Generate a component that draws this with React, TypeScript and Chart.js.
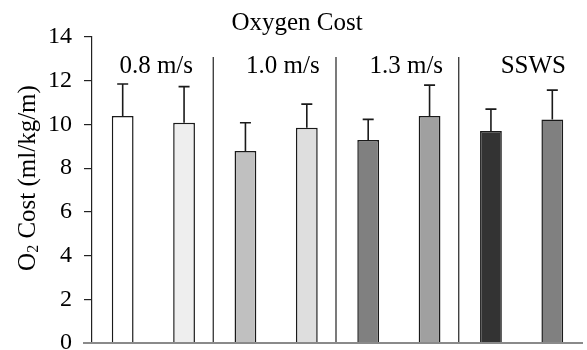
import React, { useEffect, useRef } from "react";
import { Chart, registerables } from "chart.js";

Chart.register(...registerables);

const categories = ["A1", "A2", "B1", "B2", "C1", "C2", "D1", "D2"];
const means = [10.38, 10.08, 8.78, 9.85, 9.29, 10.38, 9.7, 10.23];
const errors = [1.47, 1.65, 1.3, 1.08, 0.94, 1.42, 1.0, 1.34];
const barColors = ["#ffffff", "#eeeeee", "#c0c0c0", "#dedede", "#808080", "#a0a0a0", "#333333", "#808080"];
const groupLabels = ["0.8 m/s", "1.0 m/s", "1.3 m/s", "SSWS"];
const yTicks = [0, 2, 4, 6, 8, 10, 12, 14];

const FONT = "'Liberation Serif', 'Times New Roman', serif";

const overlayPlugin = {
  id: "overlay",
  afterDatasetsDraw(chart: any) {
    const ctx = chart.ctx;
    const xs = chart.scales.x;
    const ys = chart.scales.y;
    const area = chart.chartArea;
    ctx.save();
    // error bars
    ctx.strokeStyle = "#1a1a1a";
    ctx.lineWidth = 1.6;
    means.forEach((m, i) => {
      const x = xs.getPixelForValue(i);
      const yb = ys.getPixelForValue(m);
      const yt = ys.getPixelForValue(m + errors[i]);
      ctx.beginPath();
      ctx.moveTo(x, yb);
      ctx.lineTo(x, yt);
      ctx.moveTo(x - 5.5, yt);
      ctx.lineTo(x + 5.5, yt);
      ctx.stroke();
    });
    // separators
    ctx.lineWidth = 1.2;
    ctx.strokeStyle = "#222";
    for (let g = 1; g < groupLabels.length; g++) {
      const x = (xs.getPixelForValue(g * 2 - 1) + xs.getPixelForValue(g * 2)) / 2 - 1.5;
      ctx.beginPath();
      ctx.moveTo(x, ys.getPixelForValue(13.08));
      ctx.lineTo(x, area.bottom);
      ctx.stroke();
    }
    // x axis line
    ctx.strokeStyle = "#8a8a8a";
    ctx.lineWidth = 2;
    ctx.beginPath();
    ctx.moveTo(83, area.bottom);
    ctx.lineTo(area.right, area.bottom);
    ctx.stroke();
    // group labels
    const step = xs.getPixelForValue(1) - xs.getPixelForValue(0);
    const labelPos = [0.546, 2.61, 4.62, 6.69];
    ctx.fillStyle = "#000";
    ctx.font = `25px ${FONT}`;
    ctx.textAlign = "center";
    ctx.textBaseline = "alphabetic";
    groupLabels.forEach((t, i) => {
      ctx.fillText(t, xs.getPixelForValue(0) + labelPos[i] * step, ys.getPixelForValue(12.34));
    });
    // title
    ctx.fillText("Oxygen Cost", 297, 30);
    // y title
    ctx.translate(35, 178);
    ctx.rotate(-Math.PI / 2);
    ctx.textAlign = "left";
    const big = `25px ${FONT}`;
    const small = `16px ${FONT}`;
    ctx.font = big;
    const wO = ctx.measureText("O").width;
    const wRest = ctx.measureText(" Cost (ml/kg/m)").width;
    ctx.font = small;
    const w2 = ctx.measureText("2").width;
    const total = wO + w2 + wRest;
    let px = -total / 2;
    ctx.font = big;
    ctx.fillText("O", px, 0);
    px += wO;
    ctx.font = small;
    ctx.fillText("2", px, 3);
    px += w2;
    ctx.font = big;
    ctx.fillText(" Cost (ml/kg/m)", px, 0);
    ctx.restore();
  },
};

export default function App() {
  const ref = useRef<HTMLCanvasElement>(null);
  useEffect(() => {
    document.body.style.margin = "0";
    const chart = new Chart(ref.current as HTMLCanvasElement, {
      type: "bar",
      data: {
        labels: categories,
        datasets: [
          {
            data: means,
            backgroundColor: barColors,
            borderColor: "#1a1a1a",
            borderWidth: 1.5,
            barPercentage: 0.355,
            categoryPercentage: 1,
          },
        ],
      },
      options: {
        responsive: false,
        animation: false,
        layout: { padding: { left: 0, right: 4, top: 37, bottom: 30 } },
        plugins: { legend: { display: false }, tooltip: { enabled: false }, title: { display: false } },
        scales: {
          x: {
            offset: true,
            grid: { display: false, drawTicks: false },
            ticks: { display: false },
            border: { display: false },
            afterFit: (s: any) => {
              s.height = 0;
            },
          },
          y: {
            min: 0,
            max: 14,
            afterBuildTicks: (s: any) => {
              s.ticks = yTicks.map((v) => ({ value: v }));
            },
            ticks: {
              color: "#000",
              font: { family: FONT, size: 24 },
              padding: 12,
            },
            grid: { drawOnChartArea: false, drawTicks: true, tickLength: 8, color: "#222", lineWidth: 1.2 },
            border: { display: true, color: "#222", width: 1.2 },
            afterFit: (s: any) => {
              s.width = 92;
            },
          },
        },
      },
      plugins: [overlayPlugin],
    });
    return () => chart.destroy();
  }, []);
  return (
    <div style={{ width: 587, height: 350, overflow: "hidden", background: "#fff" }}>
      <canvas ref={ref} width={587} height={373} style={{ display: "block" }} />
    </div>
  );
}
